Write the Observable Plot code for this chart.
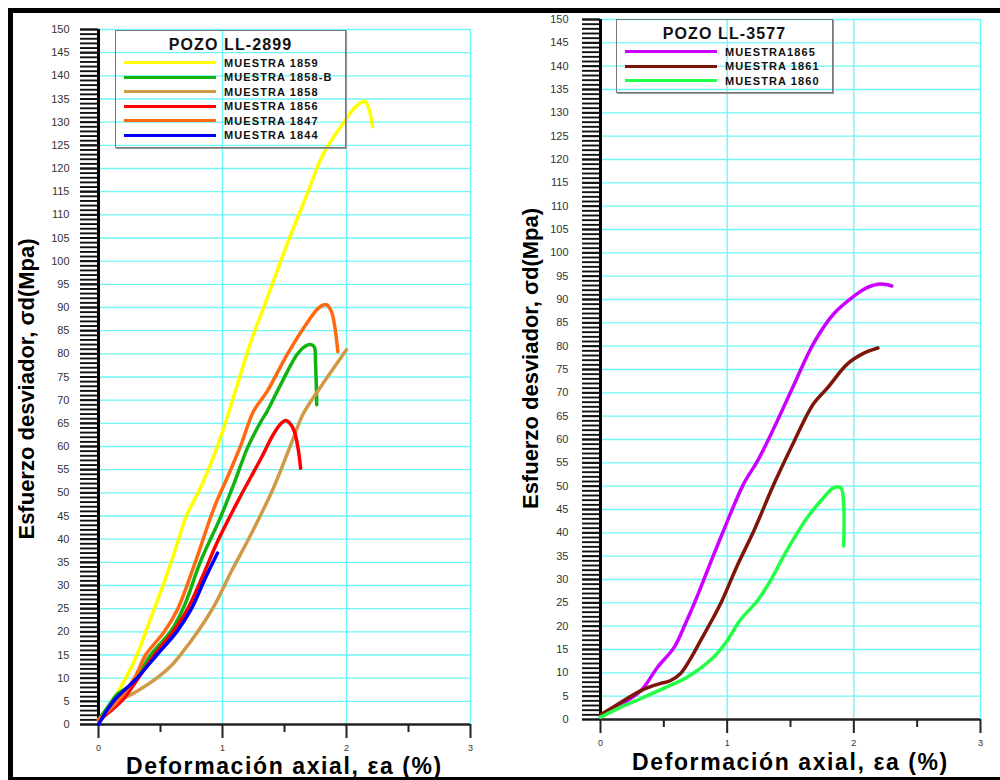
<!DOCTYPE html>
<html><head><meta charset="utf-8">
<script src="https://cdn.jsdelivr.net/npm/d3@7"></script>
<script src="https://cdn.jsdelivr.net/npm/@observablehq/plot@0.6"></script>
<style>
body{margin:0;background:#fff;}
#wrap{position:relative;width:1000px;height:780px;overflow:hidden;font-family:"Liberation Sans",Arial,sans-serif;background:#fff;}
#frame{position:absolute;left:8px;top:8px;width:1000px;height:764px;border-left:5px solid #000;border-top:5px solid #000;border-bottom:3px solid #000;z-index:5;pointer-events:none;}
.panel{position:absolute;top:0;}
.legend{position:absolute;border:1px solid #777;box-shadow:1px 1px 0 #999;z-index:4;}
.legend .lt{position:absolute;left:0;right:0;text-align:center;font-family:"Liberation Sans",Arial,sans-serif;font-weight:bold;font-size:16px;letter-spacing:1.1px;color:#111;line-height:18px;}
.legend .ln{position:absolute;height:3px;}
.legend .lb{position:absolute;font-family:"Liberation Sans",Arial,sans-serif;font-weight:bold;font-size:11px;letter-spacing:1.1px;color:#111;line-height:12px;white-space:nowrap;}
</style></head>
<body>
<div id="wrap">
  <div id="frame"></div>
</div>
<script>
// ---------- data ----------
const yMajor = d3.range(0, 151, 5);
const yMinor = d3.range(0, 151, 1);
const xMajor = [0, 1, 2, 3];
const xMinor = [0.5, 1.5, 2.5];
const yTitle = "Esfuerzo desviador, σd(Mpa)";
const xTitle = "Deformación axial, εa (%)";

const leftWell = "POZO LL-2899";
const leftNames = ["MUESTRA 1859", "MUESTRA 1858-B", "MUESTRA 1858", "MUESTRA 1856", "MUESTRA 1847", "MUESTRA 1844"];
const leftColors = ["#ffff00", "#11b311", "#d09a45", "#ff0000", "#ff6a10", "#0000ff"];

const muestra1859 = [[0,1],[0.1,4.5],[0.22,10],[0.31,15],[0.38,20],[0.45,25],[0.56,33],[0.64,39.5],[0.7,44.5],[0.74,46.8],[0.82,51],[0.93,58],[1.01,64],[1.12,73.4],[1.23,82.7],[1.35,91.3],[1.52,103.6],[1.69,115],[1.81,123],[1.98,130],[2.08,133.5],[2.15,134.5],[2.19,132],[2.21,129]];
const muestra1858B = [[0,1],[0.08,4],[0.15,6.5],[0.26,8.5],[0.34,11.5],[0.42,15],[0.58,20],[0.69,25.5],[0.82,35],[0.98,44.5],[1.1,52.5],[1.2,59.6],[1.31,65.4],[1.36,67.6],[1.47,73.4],[1.6,79.8],[1.67,81.7],[1.71,82],[1.74,81.5],[1.75,78],[1.76,69]];
const muestra1858 = [[0,0.5],[0.1,3],[0.2,5.5],[0.3,7],[0.47,10],[0.58,12.5],[0.66,15],[0.8,20],[0.92,25],[0.97,27.5],[1.08,33.5],[1.2,39.5],[1.41,51],[1.57,61.7],[1.65,67],[1.79,72.8],[2.0,80.9]];
const muestra1856 = [[0,1],[0.1,3],[0.2,5.5],[0.32,10],[0.45,15],[0.6,20],[0.72,25],[0.84,32],[0.96,39.5],[1.12,48],[1.31,57.4],[1.41,62.6],[1.47,64.9],[1.51,65.6],[1.55,64.8],[1.58,63.2],[1.61,59.5],[1.63,55.3]];
const muestra1847 = [[0,1],[0.1,3.5],[0.2,6.5],[0.3,10.5],[0.38,15],[0.53,20],[0.64,25],[0.78,35],[0.93,46.6],[1.05,54],[1.15,60.4],[1.25,67.6],[1.36,71.9],[1.52,79.8],[1.69,87],[1.78,90],[1.84,90.6],[1.88,89],[1.91,85],[1.93,80.5]];
const muestra1844 = [[0,0],[0.12,5],[0.31,10],[0.47,15],[0.63,20],[0.75,25],[0.86,31.5],[0.96,37]];
const leftSeries = [muestra1859, muestra1858B, muestra1858, muestra1856, muestra1847, muestra1844];

const rightWell = "POZO LL-3577";
const rightNames = ["MUESTRA1865", "MUESTRA 1861", "MUESTRA 1860"];
const rightColors = ["#cc00ff", "#7f1508", "#22ff44"];

const muestra1865 = [[0,0.5],[0.15,3],[0.32,6.2],[0.45,11.2],[0.58,15.4],[0.67,20.5],[0.75,25.5],[0.86,33],[0.97,40.4],[1.13,50.5],[1.24,55.4],[1.37,62.5],[1.53,71.9],[1.68,80.5],[1.84,86.9],[2.0,90.7],[2.1,92.5],[2.21,93.3],[2.3,92.9]];
const muestra1861 = [[0,1],[0.15,3.5],[0.32,6.2],[0.47,7.7],[0.55,8.3],[0.63,9.8],[0.71,13],[0.79,16.9],[0.89,21.8],[0.96,25.5],[1.08,33],[1.21,40.4],[1.37,50.5],[1.53,59.7],[1.68,67.6],[1.79,71],[1.95,76.2],[2.08,78.5],[2.19,79.6]];
const muestra1860 = [[0,0.5],[0.15,2.5],[0.32,4.5],[0.55,7.3],[0.68,9],[0.89,13.3],[1.0,16.9],[1.1,21.2],[1.24,25.5],[1.34,29.7],[1.47,36.2],[1.63,43.2],[1.76,47.5],[1.83,49.5],[1.87,49.9],[1.9,49.6],[1.92,46],[1.92,37.2]];
const rightSeries = [muestra1865, muestra1861, muestra1860];

// ---------- drawing ----------
function table(names, series) {
  return names.flatMap((n, i) => series[i].map(([x, y]) => ({x, y, serie: n})));
}

function panel(names, colors, series, m, ylab) {
  const grid = {stroke: "#6ff6f6", strokeOpacity: 1, strokeWidth: 1.4};
  const svg = Plot.plot({
    width: 500, height: 780,
    marginLeft: m.l, marginRight: m.r, marginTop: m.t, marginBottom: m.b,
    x: {domain: [0, 3]},
    y: {domain: [0, 150]},
    color: {domain: names, range: colors},
    style: {background: "transparent", overflow: "visible", fontFamily: "Liberation Sans, Arial, sans-serif"},
    marks: [
      Plot.gridY(yMajor.filter(d => d > 0), grid),
      Plot.gridX(xMajor.filter(d => d > 0), grid),
      Plot.axisY(yMinor, {tickSize: 18, tickFormat: () => "", stroke: "#111", strokeWidth: 1.9, label: null}),
      Plot.axisY(yMajor, {tickSize: 18, tickPadding: ylab, tickFormat: d => String(d), fontSize: 11, fill: "#333", stroke: "#111", strokeWidth: 1.9, label: null}),
      Plot.axisX(xMajor, {tickSize: 14, tickPadding: 6, tickFormat: d => String(d), fontSize: 9, fill: "#333", stroke: "#222", strokeWidth: 2, label: null}),
      Plot.axisX(xMinor, {tickSize: 8, tickFormat: () => "", stroke: "#222", strokeWidth: 2, label: null}),
      Plot.ruleY([0], {stroke: "#222", strokeWidth: 2.5}),
      Plot.ruleX([0], {y1: 0, y2: 150, stroke: "#000", strokeWidth: 3}),
      Plot.line(table(names, series), {x: "x", y: "y", z: "serie", stroke: "serie", strokeWidth: 3.5, curve: "catmull-rom"}),
      Plot.text([yTitle], {text: d => d, frameAnchor: "left", textAnchor: "middle", lineAnchor: "middle", rotate: -90, dx: m.tdx, dy: m.tdy, fontSize: 22, fontWeight: "bold", fill: "#000"}),
      Plot.text([xTitle], {text: d => d, frameAnchor: "bottom", textAnchor: "middle", lineAnchor: "middle", dy: m.xdy, fontSize: 23, fontWeight: "bold", fill: "#000", className: "xtitle"})
    ]
  });
  d3.select(svg).selectAll(".xtitle text").attr("letter-spacing", "1.6px");
  return svg;
}

function legend(well, names, colors, box) {
  const d = document.createElement("div");
  d.className = "legend";
  Object.assign(d.style, {left: box.x + "px", top: box.y + "px", width: box.w + "px", height: box.h + "px"});
  const t = document.createElement("div");
  t.className = "lt"; t.textContent = well; t.style.top = (14 - 9) + "px";
  d.appendChild(t);
  names.forEach((n, i) => {
    const cy = 31.5 + i * 14.5;
    const l = document.createElement("div");
    l.className = "ln";
    Object.assign(l.style, {left: "8px", width: "92px", top: (cy - 1.5) + "px", background: colors[i]});
    const b = document.createElement("div");
    b.className = "lb"; b.textContent = n;
    Object.assign(b.style, {left: "108px", top: (cy - 6) + "px"});
    d.appendChild(l); d.appendChild(b);
  });
  return d;
}

const wrap = document.getElementById("wrap");
const L = panel(leftNames, leftColors, leftSeries, {l: 98, r: 30, t: 29, b: 56, tdx: -72, tdy: 12, xdy: 42}, 11);
L.classList.add("panel"); L.style.left = "0px";
const R = panel(rightNames, rightColors, rightSeries, {l: 100, r: 20, t: 19, b: 61, tdx: -70, tdy: -11, xdy: 43}, 14);
R.classList.add("panel"); R.style.left = "500px";
wrap.appendChild(L);
wrap.appendChild(R);
wrap.appendChild(legend(leftWell, leftNames, leftColors, {x: 115, y: 30, w: 229, h: 116}));
wrap.appendChild(legend(rightWell, rightNames, rightColors, {x: 616, y: 19, w: 215, h: 72}));
</script>
</body></html>
